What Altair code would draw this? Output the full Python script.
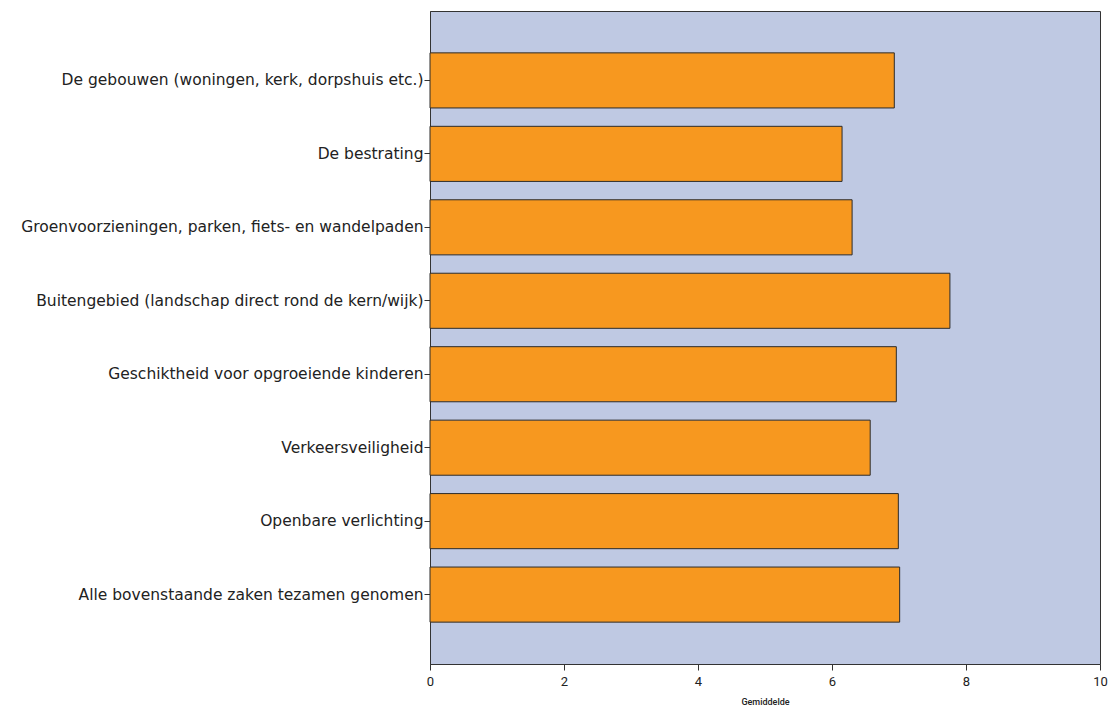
import altair as alt
import pandas as pd

categories = [
    "De gebouwen (woningen, kerk, dorpshuis etc.)",
    "De bestrating",
    "Groenvoorzieningen, parken, fiets- en wandelpaden",
    "Buitengebied (landschap direct rond de kern/wijk)",
    "Geschiktheid voor opgroeiende kinderen",
    "Verkeersveiligheid",
    "Openbare verlichting",
    "Alle bovenstaande zaken tezamen genomen",
]
means = [6.93, 6.15, 6.30, 7.76, 6.96, 6.57, 6.99, 7.01]
x_ticks = [0, 2, 4, 6, 8, 10]

df = pd.DataFrame({"cat": categories, "mean": means})

chart = (
    alt.Chart(df)
    .mark_bar(color="#F7981F", stroke="#2b2b2b", strokeWidth=1)
    .encode(
        x=alt.X(
            "mean:Q",
            scale=alt.Scale(domain=[0, 10], nice=False, zero=True),
            axis=alt.Axis(
                title="Gemiddelde",
                values=x_ticks,
                grid=False,
                tickSize=6,
                tickColor="#333333",
                domainColor="#333333",
                labelFont="Roboto",
                labelFontSize=13,
                labelColor="#222222",
                labelPadding=5,
                labelFlush=False,
                titleFont="Roboto",
                titleFontSize=9,
                titleFontWeight=500,
                titleColor="#222222",
                titlePadding=9,
            ),
        ),
        y=alt.Y(
            "cat:N",
            sort=categories,
            scale=alt.Scale(paddingInner=0.25, paddingOuter=0.57),
            axis=alt.Axis(
                title=None,
                grid=False,
                tickSize=6,
                tickColor="#333333",
                domainColor="#333333",
                labelFont="DejaVu Sans",
                labelFontSize=15.5,
                labelColor="#222222",
                labelPadding=1,
                labelLimit=500,
            ),
        ),
    )
    .properties(width=670, height=653)
    .configure(
        autosize=alt.AutoSizeParams(type="none"),
        padding={"left": 422, "top": 3, "right": 10, "bottom": 45},
    )
    .configure_view(fill="#BFC9E3", stroke="#333333", strokeWidth=1)
)

chart.save("out.html", embed_options={"renderer": "svg", "actions": False})
